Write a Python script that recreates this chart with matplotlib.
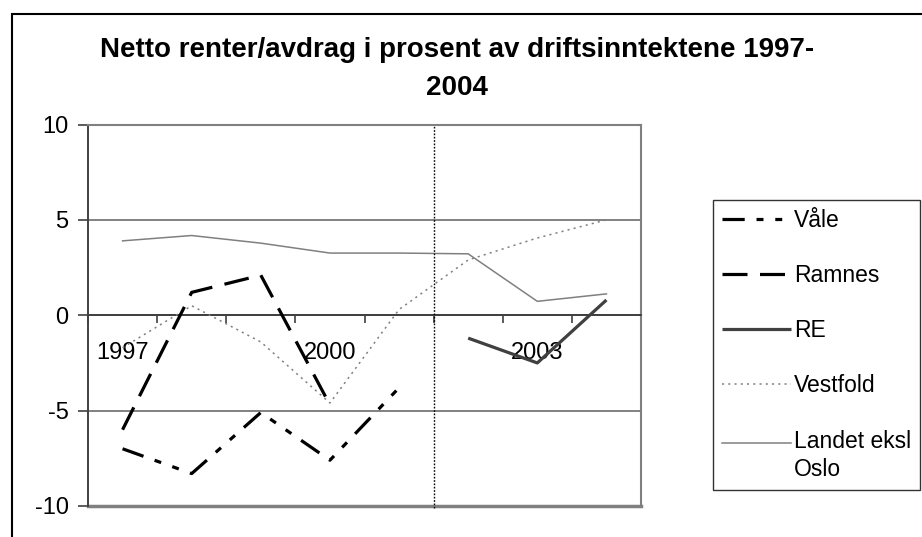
import numpy as np
import matplotlib
matplotlib.use("Agg")
import matplotlib.pyplot as plt
from matplotlib.patches import Rectangle
from matplotlib.legend_handler import HandlerLine2D

plt.rcParams['font.family'] = ['Liberation Sans', 'DejaVu Sans']
plt.rcParams['lines.scale_dashes'] = False

years = ['1997', '1998', '1999', '2000', '2001', '2002', '2003', '2004']
shown_labels = ['1997', '2000', '2003']
nan = np.nan
vale = [-7.0, -8.3, -5.1, -7.6, -3.8, nan, nan, nan]
ramnes = [-6.0, 1.2, 2.1, -4.7, nan, nan, nan, nan]
re_vals = [nan, nan, nan, nan, nan, -1.2, -2.5, 0.8]
vestfold = [-1.7, 0.5, -1.4, -4.6, 0.3, 2.9, 4.05, 5.0]
landet = [3.9, 4.18, 3.78, 3.26, 3.26, 3.22, 0.73, 1.12]
yticks = [-10, -5, 0, 5, 10]
title = "Netto renter/avdrag i prosent av driftsinntektene 1997-\n2004"


class ShiftedHandler(HandlerLine2D):
    def __init__(self, dy, **kw):
        super().__init__(**kw)
        self.dy = dy

    def create_artists(self, legend, orig_handle, xdescent, ydescent, width, height, fontsize, trans):
        return super().create_artists(legend, orig_handle, xdescent, ydescent - 2 * self.dy,
                                      width, height, fontsize, trans)


W, H = 922, 537
fig = plt.figure(figsize=(W / 100, H / 100), dpi=100)
ax = fig.add_axes([88 / W, (H - 506) / H, (641 - 88) / W, (506 - 124.5) / H])

x = np.arange(len(years))
ax.plot(x, vale, color='black', lw=2.3, dashes=[16, 8.5, 5, 8.5, 5, 8.5],
        dash_capstyle='butt', label='Våle', zorder=4)
ax.plot(x, ramnes, color='black', lw=2.3, dashes=[18, 9],
        dash_capstyle='butt', label='Ramnes', zorder=4)
ax.plot(x, re_vals, color='#404040', lw=2.3, solid_capstyle='butt', label='RE', zorder=4)
ax.plot(x, vestfold, color='#808080', lw=1.1, dashes=[1.5, 3], label='Vestfold', zorder=3)
l_landet, = ax.plot(x, landet, color='#808080', lw=1.1, label='Landet eksl\nOslo', zorder=3)

ax.set_xlim(-0.5, len(years) - 0.5)
ax.set_ylim(-10, 10)
ax.set_yticks(yticks)
ax.set_yticklabels([str(v) for v in yticks])
ax.yaxis.grid(True, color='#777777', lw=1.3)
ax.set_axisbelow(True)

# x axis at zero
ax.spines['bottom'].set_position(('data', 0))
ax.spines['bottom'].set_color('#404040')
ax.spines['bottom'].set_linewidth(1.4)
ax.spines['left'].set_color('#404040')
ax.spines['left'].set_linewidth(1.4)
for s in ['top', 'right']:
    ax.spines[s].set_color('#808080')
    ax.spines[s].set_linewidth(1.5)
ax.axhline(-10, color='#808080', lw=2.5, clip_on=False, zorder=1)

ax.set_xticks(np.arange(-0.5, len(years), 1.0))
ax.set_xticklabels([])
ax.set_xticks([years.index(l) for l in shown_labels], minor=True)
ax.set_xticklabels(shown_labels, minor=True)
ax.tick_params(axis='x', which='major', direction='out', length=6, width=1.2, color='#404040')
ax.tick_params(axis='x', which='minor', length=0, pad=19.5, labelsize=17)
ax.tick_params(axis='y', direction='out', length=7, width=1.2, color='#404040', pad=7, labelsize=17)

ax.axvline(4.5, ymin=-0.006, ymax=1.0, color='black', lw=1.0, dashes=[1.2, 1.2], clip_on=False, zorder=5)

fig.text(457 / W, 1 - 69 / H, title, ha='center', va='center', fontsize=20,
         fontweight='bold', linespacing=1.6)

leg = fig.legend(loc='upper left', bbox_to_anchor=(713 / W, 1 - 200 / H),
                 fontsize=16.5, frameon=True, fancybox=False, edgecolor='black',
                 handlelength=3.0, handletextpad=0.12, borderpad=0.4,
                 labelspacing=1.4, borderaxespad=0,
                 handler_map={l_landet: ShiftedHandler(9.5)})
leg.get_frame().set_linewidth(1.0)
for t in leg.get_texts():
    t.set_linespacing(1.3)

fig.patches.append(Rectangle((12 / W, -0.1), 1.2, 1 - 14 / H + 0.1, transform=fig.transFigure,
                             fill=False, edgecolor='black', lw=1.5))

fig.savefig('out.png', dpi=100)
